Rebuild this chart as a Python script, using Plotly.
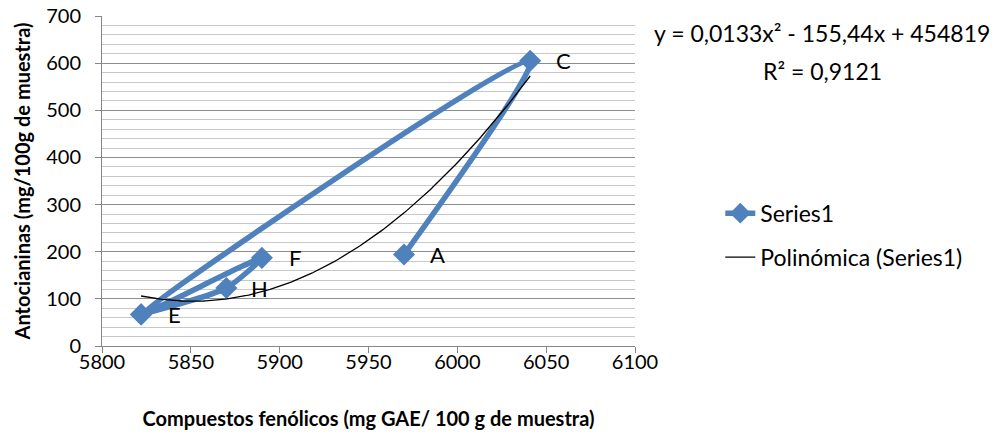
import numpy as np
import plotly.graph_objects as go

# ---- data ----
point_labels = ["A", "C", "E", "F", "H"]
fenolicos = [5970, 6041, 5822, 5890, 5870]      # x: Compuestos fenólicos
antocianinas = [194, 605, 67, 187, 123]         # y: Antocianinas
path_order = [0, 1, 2, 3, 4, 2]                 # order in which the series line is drawn

x_ticks = [5800, 5850, 5900, 5950, 6000, 6050, 6100]
y_ticks = [0, 100, 200, 300, 400, 500, 600, 700]

equation_lines = ["y = 0,0133x² - 155,44x + 454819", "R² = 0,9121"]

BLUE = "#4F81BD"
FONT = "Lato"

px_ = [fenolicos[i] for i in path_order]
py_ = [antocianinas[i] for i in path_order]

# polynomial (order 2) trendline computed from the points
coef = np.polyfit(fenolicos, antocianinas, 2)
tx = np.linspace(min(fenolicos), max(fenolicos), 200)
ty = np.polyval(coef, tx)

fig = go.Figure()
fig.add_trace(go.Scatter(
    x=px_, y=py_, mode="lines+markers", name="Series1",
    line=dict(color=BLUE, width=5.5, shape="spline", smoothing=0.6),
    marker=dict(symbol="diamond", size=17, color=BLUE),
    legendgroup="a",
))
fig.add_trace(go.Scatter(
    x=tx, y=ty, mode="lines", name="Polinómica (Series1)",
    line=dict(color="black", width=1.3),
    legendgroup="b",
))

for lab, xv, yv in zip(point_labels, fenolicos, antocianinas):
    fig.add_annotation(x=xv, y=yv, text=lab, showarrow=False, xshift=33,
                       font=dict(family=FONT, size=22, color="black"))

for line_text, ypos in zip(equation_lines, [0.9485, 0.8335]):
    fig.add_annotation(xref="paper", yref="paper", x=1.351, y=ypos,
                       xanchor="center", yanchor="middle",
                       text=line_text, showarrow=False,
                       font=dict(family=FONT, size=23, color="black"))

fig.update_layout(
    width=1006, height=435,
    margin=dict(l=102, r=371, t=16, b=88.5),
    paper_bgcolor="white", plot_bgcolor="white",
    font=dict(family=FONT, size=20, color="black"),
    showlegend=True,
    legend=dict(x=1.16, xanchor="left", y=0.4675, yanchor="top",
                traceorder="grouped", tracegroupgap=11,
                font=dict(family=FONT, size=23), bgcolor="rgba(0,0,0,0)"),
    xaxis=dict(range=[5800, 6100], tickvals=x_ticks, ticktext=[str(v) for v in x_ticks],
               automargin=False, ticklabeloverflow="allow",
               showgrid=False, zeroline=False, showline=True, linecolor="#868686", linewidth=1,
               ticks="outside", ticklen=6, tickcolor="#868686", ticklabelstandoff=-8,
               tickfont=dict(family=FONT, size=20),
               title=dict(text="<b>Compuestos fenólicos (mg GAE/ 100 g de muestra)</b>",
                          font=dict(family=FONT, size=20), standoff=39)),
    yaxis=dict(range=[0, 700], tickvals=y_ticks, ticktext=[str(v) for v in y_ticks],
               automargin=False, ticklabeloverflow="allow",
               showgrid=True, gridcolor="#8C8C8C", gridwidth=1,
               zeroline=False, showline=True, linecolor="#868686", linewidth=1,
               ticks="outside", ticklen=6, tickcolor="#868686", ticklabelstandoff=10,
               tickfont=dict(family=FONT, size=20),
               minor=dict(dtick=20, showgrid=True, gridcolor="#C8C8C8", gridwidth=1),
               title=dict(text="<b>Antocianinas (mg/100g de muestra)</b>",
                          font=dict(family=FONT, size=20), standoff=10)),
)

# remove the browser's default 8px body margin so the figure fills the window exactly
fig.write_html("out.html", config={"displayModeBar": False},
               post_script="document.body.style.margin='0px';")
